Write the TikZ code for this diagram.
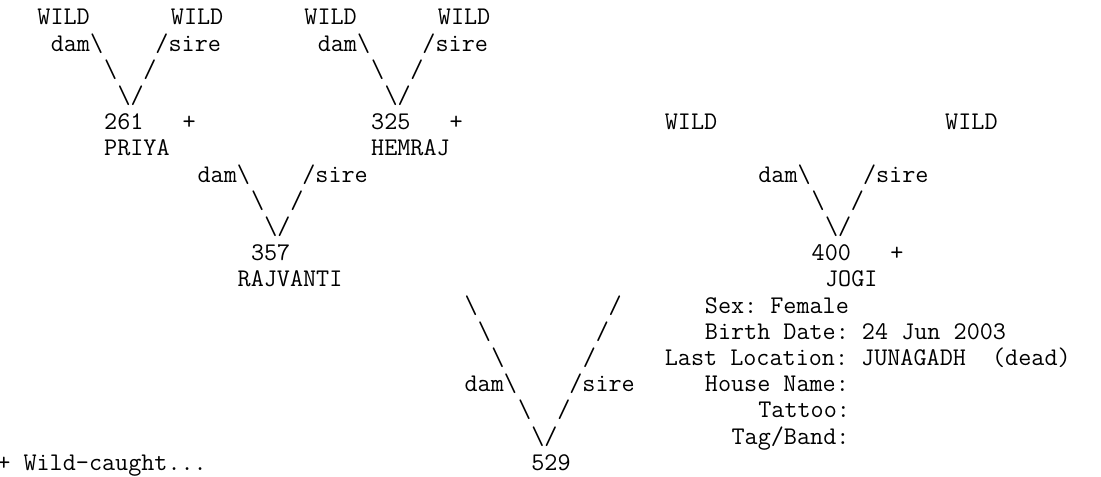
\documentclass[tikz,border=0pt]{standalone}
\usepackage{fontspec}
\usepackage{tikz}
\newcommand{\pedfont}{\ttfamily\fontsize{12.71pt}{13.1pt}\selectfont\frenchspacing}
\newcommand{\bkslash}{\textbackslash}

\begin{document}
\begin{tikzpicture}[
  x=6.675pt, y=-13.1pt,
  cell/.style={anchor=base west, inner sep=0pt, font=\pedfont}]

  \path[use as bounding box, fill=white] (0.225,0.046) rectangle (82.70,18.252);

  % PRIYA 261
  \node[cell] (priyaDam)  at (3,1)  {WILD};
  \node[cell] (priyaSire) at (13,1) {WILD};
  \node[cell] (priyaArmA) at (4,2)  {dam\bkslash~~~~/sire};
  \node[cell] (priyaArmB) at (8,3)  {\bkslash~~/};
  \node[cell] (priyaArmC) at (9,4)  {\bkslash/};
  \node[cell] (priyaId)   at (8,5)  {261~~~+};
  \node[cell] (priya)     at (8,6)  {PRIYA};

  % HEMRAJ 325
  \node[cell] (hemrajDam)  at (23,1) {WILD};
  \node[cell] (hemrajSire) at (33,1) {WILD};
  \node[cell] (hemrajArmA) at (24,2) {dam\bkslash~~~~/sire};
  \node[cell] (hemrajArmB) at (28,3) {\bkslash~~/};
  \node[cell] (hemrajArmC) at (29,4) {\bkslash/};
  \node[cell] (hemrajId)   at (28,5) {325~~~+};
  \node[cell] (hemraj)     at (28,6) {HEMRAJ};

  % RAJVANTI 357
  \node[cell] (rajArmA) at (15,7)  {dam\bkslash~~~~/sire};
  \node[cell] (rajArmB) at (19,8)  {\bkslash~~/};
  \node[cell] (rajArmC) at (20,9)  {\bkslash/};
  \node[cell] (rajId)   at (19,10) {357};
  \node[cell] (raj)     at (18,11) {RAJVANTI};

  % JOGI 400
  \node[cell] (jogiDam)  at (50,5)  {WILD};
  \node[cell] (jogiSire) at (71,5)  {WILD};
  \node[cell] (jogiArmA) at (57,7)  {dam\bkslash~~~~/sire};
  \node[cell] (jogiArmB) at (61,8)  {\bkslash~~/};
  \node[cell] (jogiArmC) at (62,9)  {\bkslash/};
  \node[cell] (jogiId)   at (61,10) {400~~~+};
  \node[cell] (jogi)     at (62,11) {JOGI};

  % 529
  \node[cell] (kidArmA) at (35,12) {\bkslash~~~~~~~~~~/};
  \node[cell] (kidArmB) at (36,13) {\bkslash~~~~~~~~/};
  \node[cell] (kidArmC) at (37,14) {\bkslash~~~~~~/};
  \node[cell] (kidArmD) at (35,15) {dam\bkslash~~~~/sire};
  \node[cell] (kidArmE) at (39,16) {\bkslash~~/};
  \node[cell] (kidArmF) at (40,17) {\bkslash/};
  \node[cell] (kidId)   at (40,18) {529};

  % details of 529
  \node[cell] (sex)    at (53,12) {Sex: Female};
  \node[cell] (birth)  at (53,13) {Birth Date: 24 Jun 2003};
  \node[cell] (loc)    at (50,14) {Last Location: JUNAGADH~~(dead)};
  \node[cell] (house)  at (53,15) {House Name:};
  \node[cell] (tattoo) at (57,16) {Tattoo:};
  \node[cell] (tag)    at (55,17) {Tag/Band:};

  % legend
  \node[cell] (legend) at (0,18) {+ Wild-caught...};
\end{tikzpicture}
\end{document}
